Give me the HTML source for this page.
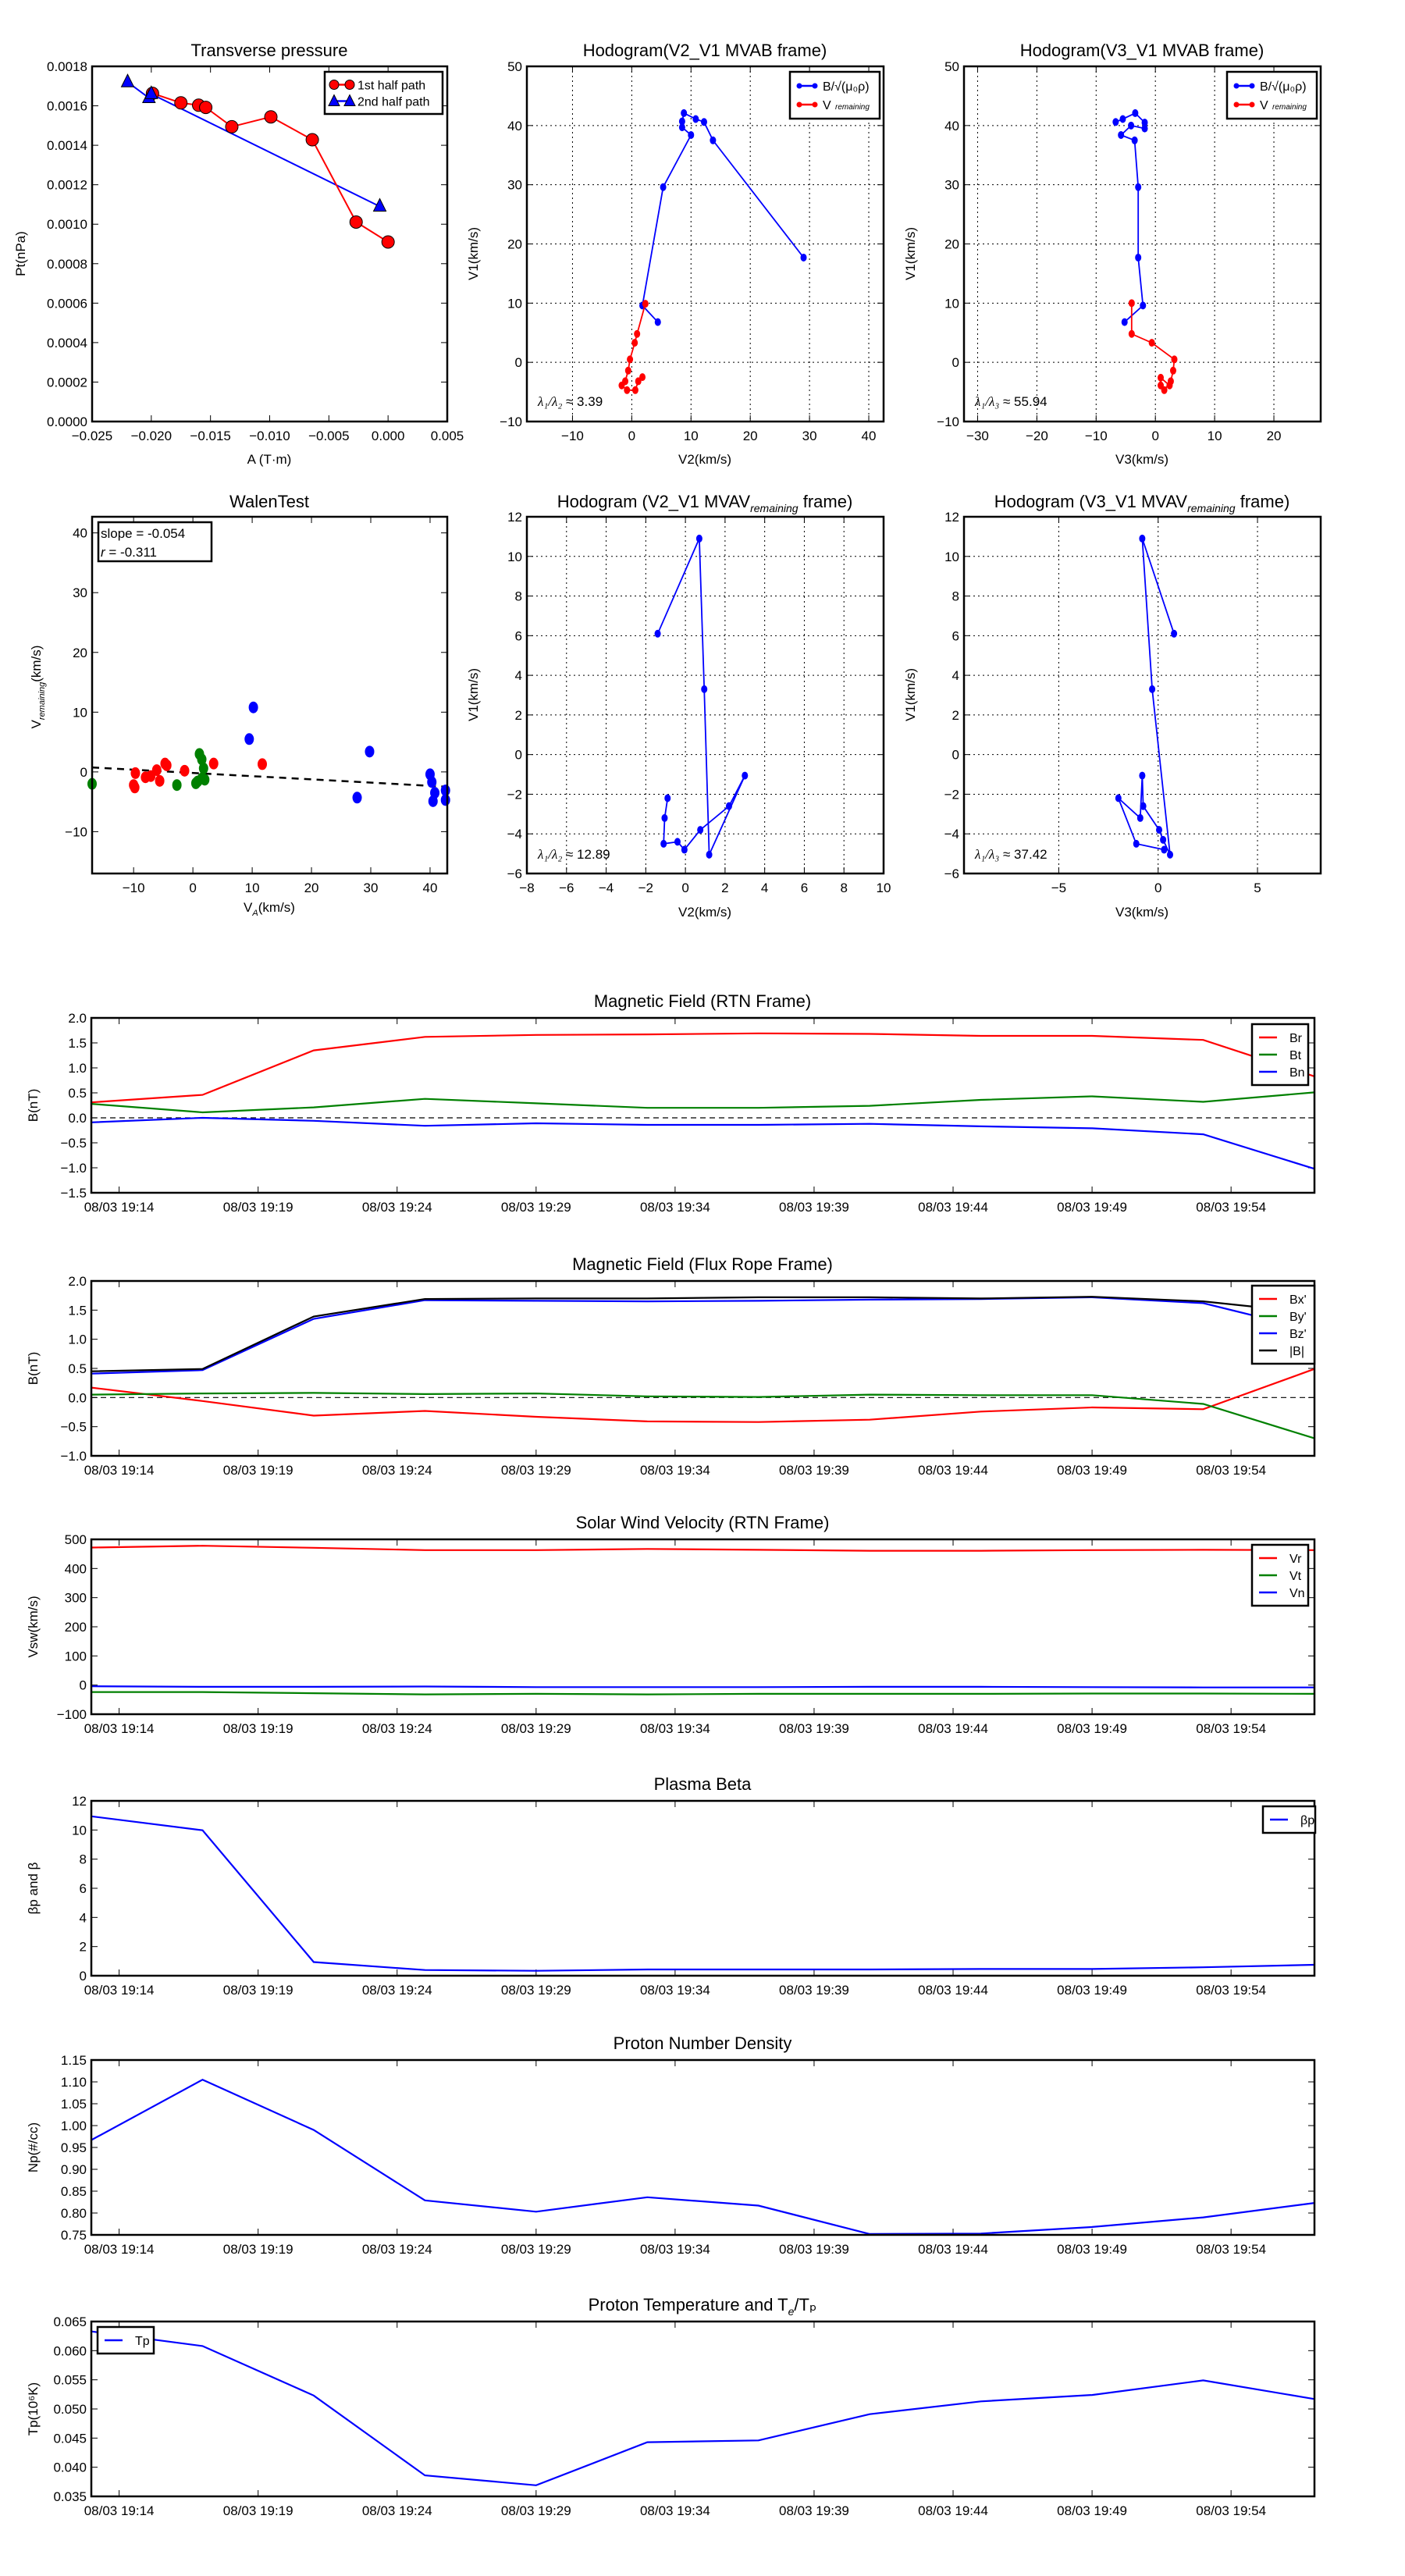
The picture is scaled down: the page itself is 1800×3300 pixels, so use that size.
<!DOCTYPE html>
<html><head><meta charset="utf-8">
<style>
html,body{margin:0;padding:0;background:#fff;}
svg{display:block;font-family:"Liberation Sans","DejaVu Sans",sans-serif;}
</style></head>
<body>
<svg id="fig" width="1800" height="3300" viewBox="0 0 1800 3300" xmlns="http://www.w3.org/2000/svg"></svg>
<script>
// ---------- data ----------
// Transverse pressure
const tpRedA = [-0.0199,-0.0175,-0.0160,-0.0154,-0.0132,-0.0099,-0.0064,-0.0027,0.0000];
const tpRedP = [0.001663,0.001615,0.001603,0.001592,0.001494,0.001544,0.001428,0.001011,0.000910];
const tpBlueA = [-0.0220,-0.0202,-0.0200,-0.0007];
const tpBlueP = [0.00172,0.00164,0.00166,0.00109];
// Hodogram MVAB V2-V1
const h1BlueX = [4.4,1.8,5.3,10.0,8.5,8.5,8.8,10.8,12.2,13.7,29.0];
const h1BlueY = [6.8,9.6,29.6,38.4,39.7,40.7,42.1,41.1,40.6,37.5,17.7];
const h1RedX = [2.3,0.9,0.5,-0.3,-0.6,-1.1,-1.7,-0.8,0.6,1.1,1.8];
const h1RedY = [9.9,4.8,3.3,0.5,-1.4,-3.2,-3.9,-4.7,-4.7,-3.2,-2.5];
// Hodogram MVAB V3-V1
const h2BlueX = [-5.2,-2.1,-2.9,-2.9,-3.5,-5.8,-4.1,-1.8,-1.8,-3.4,-5.5,-6.7];
const h2BlueY = [6.8,9.6,17.7,29.6,37.5,38.4,40.0,39.5,40.5,42.1,41.1,40.6];
const h2RedX = [-4.0,-4.0,-0.6,3.2,3.0,2.6,1.5,0.9,0.9,2.4];
const h2RedY = [10.0,4.8,3.3,0.5,-1.4,-3.2,-4.7,-3.9,-2.6,-3.9];
// Walen test
const wRedX = [-9.7,-10,-9.8,-8.0,-7.1,-6.1,-5.6,-4.7,-4.4,-1.4,3.5,11.7];
const wRedY = [-0.2,-2.2,-2.6,-0.9,-0.7,0.3,-1.5,1.4,1.1,0.2,1.4,1.3];
const wGreenX = [-17,-2.7,0.5,1.1,1.5,1.8,1.5,2.0,0.8];
const wGreenY = [-2.0,-2.2,-1.9,3.0,2.1,0.6,-1.1,-1.3,-1.6];
const wBlueX = [10.2,9.5,29.8,27.7,40.0,40.3,40.8,40.5,42.6,42.6];
const wBlueY = [10.8,5.5,3.4,-4.3,-0.4,-1.7,-3.5,-4.9,-3.1,-4.7];
const wSlope = -0.054, wIntercept = -0.17;
// Hodogram MVAV
const h3X = [-1.4,0.7,0.95,1.2,3.0,2.2,0.75,-0.05,-0.4,-1.1,-1.05,-0.9];
const h3Y = [6.1,10.9,3.3,-5.05,-1.06,-2.6,-3.8,-4.8,-4.4,-4.5,-3.2,-2.2];
const h4X = [0.8,-0.8,-0.3,0.6,0.25,0.05,-0.75,-0.8,-0.9,-2.0,-1.1,0.3];
const h4Y = [6.1,10.9,3.3,-5.05,-4.3,-3.8,-2.6,-1.06,-3.2,-2.2,-4.5,-4.8];
// Time series (minutes after 19:13)
const tMin = [0,4,8,12,16,20,24,28,32,36,40,44];
const tickMin = [1,6,11,16,21,26,31,36,41];
const tickLbl = ["08/03 19:14","08/03 19:19","08/03 19:24","08/03 19:29","08/03 19:34","08/03 19:39","08/03 19:44","08/03 19:49","08/03 19:54"];
const Br = [0.31,0.46,1.35,1.62,1.66,1.67,1.69,1.68,1.64,1.64,1.56,0.83];
const Bt = [0.28,0.11,0.21,0.38,0.29,0.20,0.20,0.24,0.36,0.43,0.32,0.51];
const Bn = [-0.09,0.0,-0.06,-0.16,-0.11,-0.14,-0.14,-0.12,-0.17,-0.21,-0.33,-1.02];
const Bxp = [0.17,-0.06,-0.31,-0.23,-0.33,-0.41,-0.42,-0.38,-0.24,-0.17,-0.20,0.49];
const Byp = [0.05,0.07,0.08,0.06,0.07,0.02,0.01,0.05,0.04,0.04,-0.11,-0.70];
const Bzp = [0.41,0.47,1.35,1.67,1.66,1.65,1.66,1.68,1.69,1.72,1.62,1.15];
const Bmag = [0.45,0.49,1.39,1.69,1.70,1.70,1.72,1.72,1.70,1.73,1.65,1.45];
const Vr = [472,478,471,463,463,467,464,461,461,463,464,463];
const Vt = [-24,-24,-28,-32,-30,-32,-30,-30,-30,-29,-29,-30];
const Vn = [-4,-6,-6,-5,-7,-7,-7,-6,-6,-7,-8,-8];
const Beta = [10.94,9.98,0.94,0.39,0.34,0.43,0.43,0.43,0.46,0.46,0.58,0.75];
const Np = [0.967,1.105,0.990,0.829,0.803,0.836,0.817,0.752,0.753,0.768,0.790,0.823];
const Tp = [0.0633,0.0608,0.0523,0.0386,0.0369,0.0443,0.0446,0.0491,0.0513,0.0524,0.0549,0.0517];

// ---------- helpers ----------
const NS = "http://www.w3.org/2000/svg";
const fig = document.getElementById('fig');
function mk(tag, attrs, parent, text){
  const e = document.createElementNS(NS, tag);
  for (const k in attrs) e.setAttribute(k, attrs[k]);
  if (text !== undefined) e.textContent = text;
  (parent||fig).appendChild(e);
  return e;
}
function axes(name, x0,y0,w,h,xmin,xmax,ymin,ymax){
  const g = mk('g',{});
  
  
  return {g,x0,y0,w,h,xmin,xmax,ymin,ymax,
    sx:v=>x0+(v-xmin)/(xmax-xmin)*w,
    sy:v=>y0+h-(v-ymin)/(ymax-ymin)*h};
}
function frame(a){
  const r = mk('rect',{x:a.x0,y:a.y0,width:a.w,height:a.h,fill:'none',stroke:'#000','stroke-width':2.5},a.g);
  
  
}
function xticks(a, vals, labels, grid, fs){
  const g = mk('g',{},a.g);
  
  
  vals.forEach((v,i)=>{
    const x=a.sx(v);
    if(grid) mk('line',{x1:x,y1:a.y0,x2:x,y2:a.y0+a.h,stroke:'#000','stroke-width':1,'stroke-dasharray':'2,4'},g);
    mk('line',{x1:x,y1:a.y0+a.h,x2:x,y2:a.y0+a.h-8,stroke:'#000','stroke-width':1},g);
    mk('line',{x1:x,y1:a.y0,x2:x,y2:a.y0+8,stroke:'#000','stroke-width':1},g);
    mk('text',{x:x,y:a.y0+a.h+24,'text-anchor':'middle','font-size':fs||17},g,labels[i]);
  });
}
function yticks(a, vals, labels, grid, fs){
  const g = mk('g',{},a.g);
  
  
  vals.forEach((v,i)=>{
    const y=a.sy(v);
    if(grid) mk('line',{x1:a.x0,y1:y,x2:a.x0+a.w,y2:y,stroke:'#000','stroke-width':1,'stroke-dasharray':'2,4'},g);
    mk('line',{x1:a.x0,y1:y,x2:a.x0+8,y2:y,stroke:'#000','stroke-width':1},g);
    mk('line',{x1:a.x0+a.w,y1:y,x2:a.x0+a.w-8,y2:y,stroke:'#000','stroke-width':1},g);
    mk('text',{x:a.x0-6,y:y+6,'text-anchor':'end','font-size':fs||17},g,labels[i]);
  });
}
function line(a, xs, ys, color, name, sw){
  const pts = xs.map((x,i)=>a.sx(x).toFixed(1)+','+a.sy(ys[i]).toFixed(1)).join(' ');
  const p = mk('polyline',{points:pts,fill:'none',stroke:color,'stroke-width':sw||2},a.g);
  
  
}
function dots(a, xs, ys, color, name, r, stroke){
  xs.forEach((x,i)=>{
    const c = mk('ellipse',{cx:a.sx(x),cy:a.sy(ys[i]),rx:r,ry:r*1.25,fill:color,stroke:stroke||'none','stroke-width':1},a.g);
    
    
  });
}
function title(x,y,txt,sub,after){
  const t = mk('text',{x:x,y:y,'text-anchor':'middle','font-size':22});
  
  
  mk('tspan',{},t,txt);
  if(sub){ mk('tspan',{'font-size':14,'font-style':'italic',dy:6},t,sub); mk('tspan',{dy:-6},t,after); }
}
function ylabel(x,y,txt,fs){
  const t = mk('text',{x:x,y:y,'text-anchor':'middle','font-size':fs||17,transform:`rotate(-90 ${x} ${y})`});
  
  
  t.textContent = txt;
}
function xlabel(x,y,txt){
  const t = mk('text',{x:x,y:y,'text-anchor':'middle','font-size':17});
  
  
  t.textContent = txt;
}
function legend(x,y,w,entries,lineh){
  const g = mk('g',{});
  
  
  mk('rect',{x:x,y:y,width:w,height:entries.length*lineh+12,fill:'#fff',stroke:'#000','stroke-width':2.5},g);
  entries.forEach((e,i)=>{
    const cy = y+6+lineh*(i+0.5);
    const eg = mk('g',{},g);
    
    
    mk('line',{x1:x+9,y1:cy,x2:x+32,y2:cy,stroke:e.c,'stroke-width':2.5},eg);
    if(e.m==='o'){ mk('circle',{cx:x+12,cy:cy,r:6,fill:e.c,stroke:'#000'},eg); mk('circle',{cx:x+32,cy:cy,r:6,fill:e.c,stroke:'#000'},eg); }
    if(e.m==='^'){ [x+12,x+32].forEach(cx=>mk('polygon',{points:`${cx},${cy-8} ${cx-7},${cy+6} ${cx+7},${cy+6}`,fill:e.c,stroke:'#000'},eg)); }
    if(e.m==='.'){ mk('circle',{cx:x+12,cy:cy,r:3.5,fill:e.c},eg); mk('circle',{cx:x+32,cy:cy,r:3.5,fill:e.c},eg); }
    mk('text',{x:x+(e.m?42:48),y:cy+6,'font-size':16},eg,e.t);
  });
}
function range(a,b,s){const r=[];for(let v=a;v<=b+1e-9;v+=s)r.push(+v.toFixed(6));return r;}

// ---------- Panel 1: transverse pressure ----------
{
  const a = axes('transverse-pressure-chart',118,85,455,455,-0.025,0.005,0,0.0018);
  title(345,72,'Transverse pressure');
  const xv = range(-0.025,0.005,0.005);
  xticks(a,xv,xv.map(v=>(v<0?'\u2212':'')+Math.abs(v).toFixed(3)));
  const yv = range(0,0.0018,0.0002);
  yticks(a,yv,yv.map(v=>v.toFixed(4)));
  line(a,tpBlueA,tpBlueP,'#0000ff','second-half-path-line');
  line(a,tpRedA,tpRedP,'#ff0000','first-half-path-line');
  tpRedA.forEach((x,i)=>{
    const c=mk('circle',{cx:a.sx(x),cy:a.sy(tpRedP[i]),r:8,fill:'#ff0000',stroke:'#000'},a.g);
    
    
  });
  tpBlueA.forEach((x,i)=>{
    const cx=a.sx(x), cy=a.sy(tpBlueP[i]);
    const p=mk('polygon',{points:`${cx},${cy-10} ${cx-8},${cy+6} ${cx+8},${cy+6}`,fill:'#0000ff',stroke:'#000'},a.g);
    
    
  });
  frame(a);
  legend(416,92,151,[{t:'1st half path',c:'#ff0000',m:'o'},{t:'2nd half path',c:'#0000ff',m:'^'}],21);
  ylabel(32,325,'Pt(nPa)');
  xlabel(345,594,'A (T\u00b7m)');
}
// ---------- hodogram helpers ----------
function hodo(name,x0,xmin,xmax,xt,bx,by,rx,ry,ttl,xl,lam){
  const a = axes(name,x0,85,457,455,xmin,xmax,-10,50);
  title(x0+228,72,ttl);
  xticks(a,xt,xt.map(v=>v<0?'\u2212'+(-v):''+v),true);
  const yv=range(-10,50,10);
  yticks(a,yv,yv.map(v=>v<0?'\u2212'+(-v):''+v),true);
  line(a,bx,by,'#0000ff','b-alfven-line',1.8);
  dots(a,bx,by,'#0000ff','b-alfven-point',4);
  line(a,rx,ry,'#ff0000','v-remaining-line',1.8);
  dots(a,rx,ry,'#ff0000','v-remaining-point',4);
  frame(a);
  const t=mk('text',{x:x0+14,y:520,'font-size':17});
  
  
  mk('tspan',{'font-style':'italic','font-family':'Liberation Serif, serif'},t,lam[0]);
  mk('tspan',{},t,lam[1]);
  legend(x0+337,92,115,[{t:'B/\u221a(\u03bc\u2080\u03c1)',c:'#0000ff',m:'.'},{t:'V',c:'#ff0000',m:'.'}],24);
  const sub=mk('text',{x:x0+395,y:140,'font-size':10,'font-style':'italic'},fig,'remaining');
  
  
  ylabel(x0-63,325,'V1(km/s)');
  xlabel(x0+228,594,xl);
}
hodo('hodogram-v2-v1-mvab-chart',675,-17.7,42.5,range(-10,40,10),h1BlueX,h1BlueY,h1RedX,h1RedY,'Hodogram(V2_V1 MVAB frame)','V2(km/s)',['\u03bb\u2081/\u03bb\u2082',' \u2248 3.39']);
hodo('hodogram-v3-v1-mvab-chart',1235,-32.3,27.9,range(-30,20,10),h2BlueX,h2BlueY,h2RedX,h2RedY,'Hodogram(V3_V1 MVAB frame)','V3(km/s)',['\u03bb\u2081/\u03bb\u2083',' \u2248 55.94']);

// ---------- Walen test ----------
{
  const a = axes('walen-test-chart',118,662,455,457,-17,42.9,-17,42.7);
  title(345,650,'WalenTest');
  const xv=[-10,0,10,20,30,40];
  xticks(a,xv,xv.map(v=>v<0?'\u2212'+(-v):''+v));
  const yv=[-10,0,10,20,30,40];
  yticks(a,yv,yv.map(v=>v<0?'\u2212'+(-v):''+v));
  const lx=[a.xmin,a.xmax];
  const p=mk('line',{x1:a.sx(lx[0]),y1:a.sy(wSlope*lx[0]+wIntercept),x2:a.sx(lx[1]),y2:a.sy(wSlope*lx[1]+wIntercept),stroke:'#000','stroke-width':2.5,'stroke-dasharray':'9,7'},a.g);
  
  
  dots(a,wRedX,wRedY,'#ff0000','walen-point-red',6);
  dots(a,wGreenX,wGreenY,'#008000','walen-point-green',6);
  dots(a,wBlueX,wBlueY,'#0000ff','walen-point-blue',6);
  frame(a);
  const g=mk('g',{});
  
  
  mk('rect',{x:126,y:669,width:145,height:50,fill:'#fff',stroke:'#000','stroke-width':2.5},g);
  mk('text',{x:129,y:689,'font-size':17},g,'slope = -0.054');
  const t=mk('text',{x:129,y:713,'font-size':17},g);
  mk('tspan',{'font-style':'italic'},t,'r');
  mk('tspan',{},t,' = -0.311');
  const yl=mk('text',{x:52,y:880,'text-anchor':'middle','font-size':17,transform:'rotate(-90 52 880)'});
  
  
  mk('tspan',{},yl,'V');
  mk('tspan',{'font-size':11,'font-style':'italic',dy:5},yl,'remaining');
  mk('tspan',{dy:-5},yl,'(km/s)');
  const xl=mk('text',{x:345,y:1168,'text-anchor':'middle','font-size':17});
  
  
  mk('tspan',{},xl,'V');
  mk('tspan',{'font-size':11,'font-style':'italic',dy:5},xl,'A');
  mk('tspan',{dy:-5},xl,'(km/s)');
}
// ---------- MVAV hodograms ----------
function hodo2(name,x0,xmin,xmax,xt,xs,ys,ttl,xl,lam){
  const a = axes(name,x0,662,457,457,xmin,xmax,-6,12);
  title(x0+228,650,ttl,'remaining',' frame)');
  xticks(a,xt,xt.map(v=>v<0?'\u2212'+(-v):''+v),true);
  const yv=range(-6,12,2);
  yticks(a,yv,yv.map(v=>v<0?'\u2212'+(-v):''+v),true);
  line(a,xs,ys,'#0000ff','v-remaining-line',1.8);
  dots(a,xs,ys,'#0000ff','v-remaining-point',4);
  frame(a);
  const t=mk('text',{x:x0+14,y:1100,'font-size':17});
  
  
  mk('tspan',{'font-style':'italic','font-family':'Liberation Serif, serif'},t,lam[0]);
  mk('tspan',{},t,lam[1]);
  ylabel(x0-63,890,'V1(km/s)');
  xlabel(x0+228,1174,xl);
}
hodo2('hodogram-v2-v1-mvav-chart',675,-8,10,range(-8,10,2),h3X,h3Y,'Hodogram (V2_V1 MVAV','V2(km/s)',['\u03bb\u2081/\u03bb\u2082',' \u2248 12.89']);
hodo2('hodogram-v3-v1-mvav-chart',1235,-9.77,8.18,[-5,0,5],h4X,h4Y,'Hodogram (V3_V1 MVAV','V3(km/s)',['\u03bb\u2081/\u03bb\u2083',' \u2248 37.42']);

// ---------- time series ----------
function ts(name,y0,ymin,ymax,yv,ylbl,ttl,series,ylab,zero,leg,legx,legy,legw){
  const a = axes(name,117,y0,1567,224,0,44,ymin,ymax);
  title(900,y0-14,ttl[0],ttl[1],ttl[2]);
  xticks(a,tickMin,tickLbl,false,17);
  yticks(a,yv,ylbl);
  if(zero){
    const z=mk('line',{x1:a.x0,y1:a.sy(0),x2:a.x0+a.w,y2:a.sy(0),stroke:'#000','stroke-width':1.2,'stroke-dasharray':'7,5'},a.g);
    
    
  }
  series.forEach(s=>line(a,tMin,s.v,s.c,s.n,2.2));
  frame(a);
  if(leg) legend(legx,legy,legw,leg,22);
  ylabel(48,y0+112,ylab);
}
const neg=v=>v<0?'\u2212'+(-v):''+v;
let yv;
yv=range(-1.5,2,0.5);
ts('magnetic-field-rtn-chart',1304,-1.5,2,yv,yv.map(v=>neg(+v.toFixed(1)).replace(/^(\u2212?\d)$/,'$1.0')),['Magnetic Field (RTN Frame)'],
  [{v:Br,c:'#ff0000',n:'br-line'},{v:Bt,c:'#008000',n:'bt-line'},{v:Bn,c:'#0000ff',n:'bn-line'}],'B(nT)',true,
  [{t:'Br',c:'#ff0000'},{t:'Bt',c:'#008000'},{t:'Bn',c:'#0000ff'}],1604,1312,72);
yv=range(-1,2,0.5);
ts('magnetic-field-flux-rope-chart',1641,-1,2,yv,yv.map(v=>neg(+v.toFixed(1)).replace(/^(\u2212?\d)$/,'$1.0')),['Magnetic Field (Flux Rope Frame)'],
  [{v:Bxp,c:'#ff0000',n:'bx-prime-line'},{v:Byp,c:'#008000',n:'by-prime-line'},{v:Bzp,c:'#0000ff',n:'bz-prime-line'},{v:Bmag,c:'#000000',n:'b-magnitude-line'}],'B(nT)',true,
  [{t:"Bx'",c:'#ff0000'},{t:"By'",c:'#008000'},{t:"Bz'",c:'#0000ff'},{t:'|B|',c:'#000'}],1604,1647,80);
yv=range(-100,500,100);
ts('solar-wind-velocity-chart',1972,-100,500,yv,yv.map(neg),['Solar Wind Velocity (RTN Frame)'],
  [{v:Vr,c:'#ff0000',n:'vr-line'},{v:Vt,c:'#008000',n:'vt-line'},{v:Vn,c:'#0000ff',n:'vn-line'}],'Vsw(km/s)',false,
  [{t:'Vr',c:'#ff0000'},{t:'Vt',c:'#008000'},{t:'Vn',c:'#0000ff'}],1604,1979,72);
yv=range(0,12,2);
ts('plasma-beta-chart',2307,0,12,yv,yv.map(String),['Plasma Beta'],
  [{v:Beta,c:'#0000ff',n:'beta-p-line'}],'\u03b2p and \u03b2',false,
  [{t:'\u03b2p',c:'#0000ff'}],1618,2314,67);
yv=range(0.75,1.15,0.05);
ts('proton-density-chart',2639,0.75,1.15,yv,yv.map(v=>v.toFixed(2)),['Proton Number Density'],
  [{v:Np,c:'#0000ff',n:'np-line'}],'Np(#/cc)',false,null);
yv=range(0.035,0.065,0.005);
ts('proton-temperature-chart',2974,0.035,0.065,yv,yv.map(v=>v.toFixed(3)),['Proton Temperature and T','e','/T\u209a'],
  [{v:Tp,c:'#0000ff',n:'tp-line'}],'Tp(10\u2076K)',false,
  [{t:'Tp',c:'#0000ff'}],125,2981,72);
</script>
</body></html>
